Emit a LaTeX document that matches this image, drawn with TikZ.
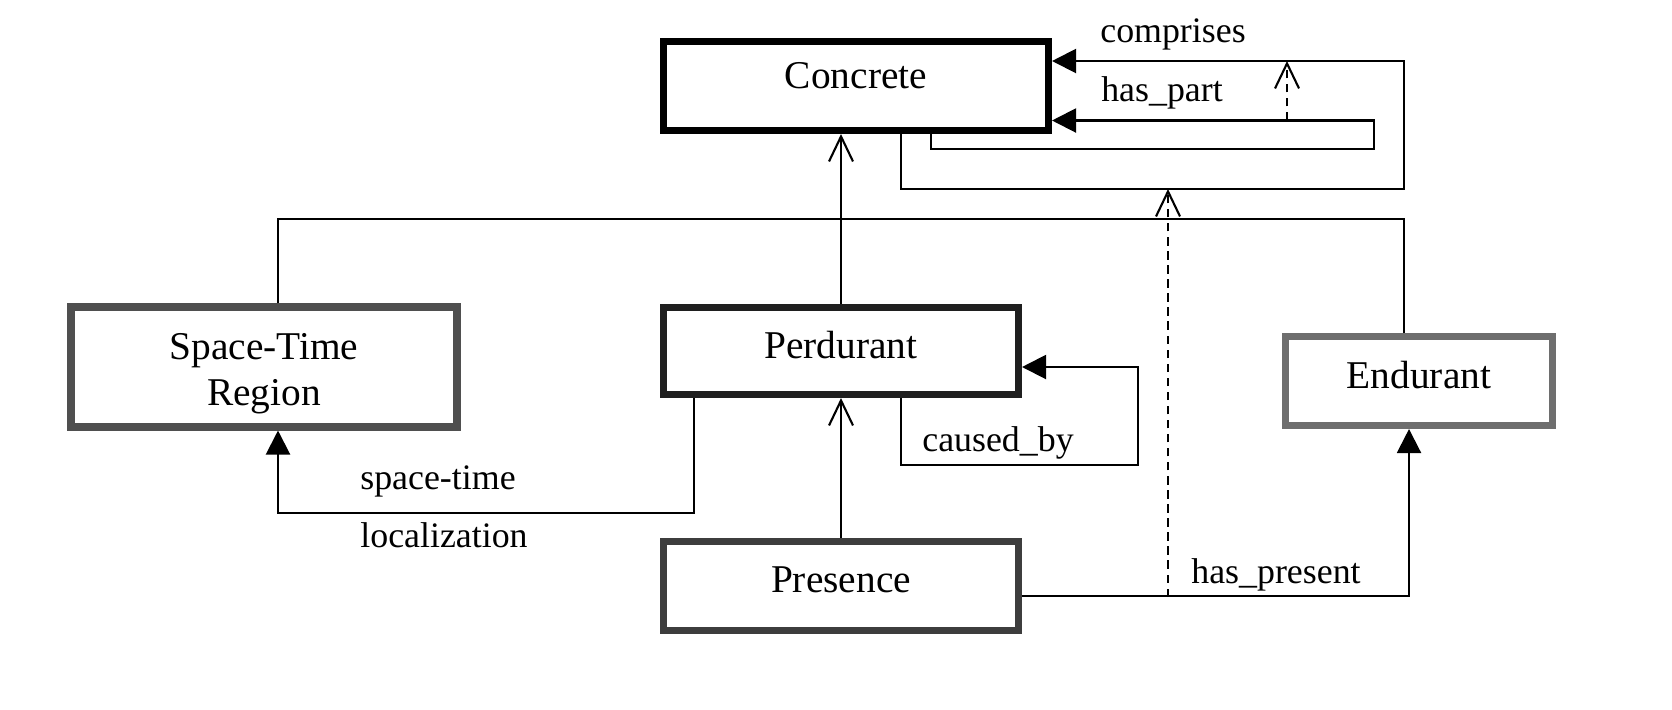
\documentclass[tikz,border=0pt]{standalone}
\usepackage{fontspec}
\setmainfont{Liberation Serif}
\usetikzlibrary{arrows.meta}
\begin{document}
\begin{tikzpicture}[
  cls/.style={draw,line width=2pt,minimum height=.89cm,text depth=.13cm,align=center,font=\fontsize{11.2}{13}\selectfont},
  lbl/.style={font=\fontsize{10.2}{12}\selectfont},
  conn/.style={line width=.6pt},
  assoc/.style={conn,-{Triangle[length=.24cm,width=.24cm]}},
  isa/.style={conn,-{Straight Barb[length=.25cm,width=.24cm]}},
  dep/.style={isa,dash pattern=on 2.4pt off 1.6pt}]
\useasboundingbox (0,0) rectangle (16.72,7.09);
% classes
\node[cls,text depth=.21cm,minimum width=3.85cm] (concrete) at (8.56,6.23) {Concrete};
\node[cls,draw=black!88,minimum width=3.55cm,minimum height=.87cm] (perdurant) at (8.41,3.58) {Perdurant};
\node[cls,draw=black!69,minimum width=3.86cm,minimum height=1.2cm,text depth={}] (stregion) at (2.64,3.42) {\rule{0pt}{11.3pt}Space-Time\\Region};
\node[cls,draw=black!57,minimum width=2.67cm] (endurant) at (14.19,3.28) {Endurant};
\node[cls,draw=black!76,minimum width=3.55cm] (presence) at (8.41,1.23) {Presence};
% generalization
\draw[isa](perdurant.north)--(perdurant.north|-concrete.south);
\draw[conn](stregion.north-|2.78,0)|-(14.04,4.90)--(endurant.north-|14.04,0);
\draw[isa](presence.north)--(perdurant.south);
% relations
\draw[assoc]([xshift=.45cm]concrete.south)|-(14.04,5.20)|-(concrete.east|-0,6.48);
\draw[assoc]([xshift=.75cm]concrete.south)|-(13.74,5.60)|-(concrete.east|-0,5.885);
\draw[assoc]([xshift=.6cm]perdurant.south)|-(11.38,2.44)|-(perdurant.east|-0,3.42);
\draw[assoc]([xshift=-1.47cm]perdurant.south)|-(2.78,1.96)--(stregion.south-|2.78,0);
\draw[assoc]([yshift=-.1cm]presence.east)-|(endurant.south-|14.09,0);
% dependencies
\coordinate (hp) at (12.87,5.885);\coordinate (cp) at (12.87,6.48);
\draw[dep](hp)--(cp);
\coordinate (pr) at (11.68,1.12);\coordinate (cm) at (11.68,5.20);
\draw[dep](pr)--(cm);
% labels
\node[lbl] (lcomp) at (11.73,6.75) {comprises};
\node[lbl] (lpart) at (11.62,6.16) {has\_part};
\node[lbl] (lcaus) at (9.98,2.66) {caused\_by};
\node[lbl] (lspace) at (4.38,2.28) {space-time};
\node[lbl] (lloc) at (4.44,1.74) {localization};
\node[lbl] (lpres) at (12.76,1.34) {has\_present};
\end{tikzpicture}
\end{document}
